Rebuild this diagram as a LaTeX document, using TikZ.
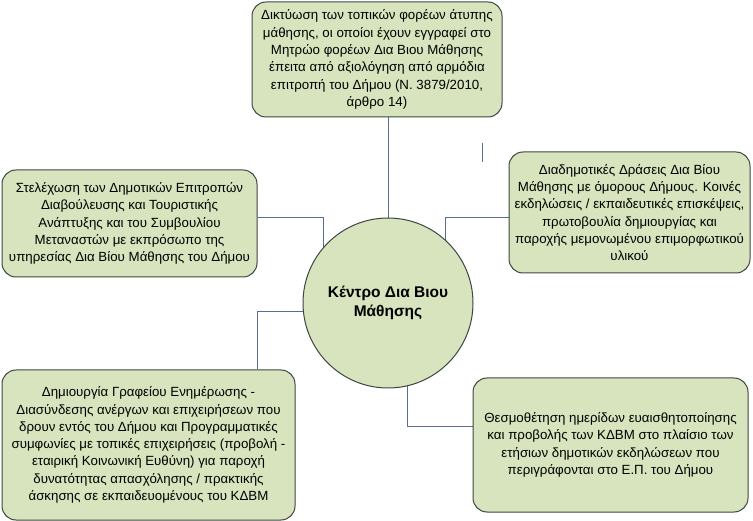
\documentclass[tikz,border=0pt]{standalone}
\usepackage{fontspec}
\setmainfont{Liberation Sans}
\usetikzlibrary{backgrounds}
\definecolor{boxfill}{RGB}{215,228,189}
\definecolor{boxline}{RGB}{62,70,66}
\definecolor{conn}{RGB}{88,108,150}
\tikzset{
  txtbox/.style={draw=boxline, fill=boxfill, line width=1pt, rounded corners=14pt,
    align=center, inner sep=0pt, font=\fontsize{13.3}{17.3}\selectfont},
  hub/.style={circle, draw=boxline, fill=boxfill, line width=1pt, minimum size=170pt,
    align=center, inner sep=0pt, font=\fontsize{15.5}{19}\selectfont\bfseries},
  link/.style={draw=conn, line width=1pt}
}
\begin{document}
\begin{tikzpicture}[x=1pt,y=-1pt]
\useasboundingbox (0,0) rectangle (753,521);
\node[hub] (c) at (388,303) {Κέντρο Δια Βιου\\Μάθησης};
\node[txtbox, minimum width=250pt, minimum height=115pt] (top) at (377,59.5)
 {Δικτύωση των τοπικών φορέων άτυπης\\μάθησης, οι οποίοι έχουν εγγραφεί στο\\Μητρώο φορέων Δια Βιου Μάθησης\\έπειτα από αξιολόγηση από αρμόδια\\επιτροπή του Δήμου (Ν. 3879/2010,\\άρθρο 14)};
\node[txtbox, minimum width=255pt, minimum height=107pt] (left) at (129.5,223.5)
 {Στελέχωση των Δημοτικών Επιτροπών\\Διαβούλευσης και Τουριστικής\\Ανάπτυξης και του Συμβουλίου\\Μεταναστών με εκπρόσωπο της\\υπηρεσίας Δια Βίου Μάθησης του Δήμου};
\node[txtbox, minimum width=241pt, minimum height=121pt] (right) at (629.5,212.5)
 {Διαδημοτικές Δράσεις Δια Βίου\\Μάθησης με όμορους Δήμους. Κοινές\\εκδηλώσεις / εκπαιδευτικές επισκέψεις,\\πρωτοβουλία δημιουργίας και\\παροχής μεμονωμένου επιμορφωτικού\\υλικού};
\node[txtbox, minimum width=293pt, minimum height=150pt] (bl) at (148.5,445)
 {Δημιουργία Γραφείου Ενημέρωσης -\\Διασύνδεσης ανέργων και επιχειρήσεων που\\δρουν εντός του Δήμου και Προγραμματικές\\συμφωνίες με τοπικές επιχειρήσεις (προβολή -\\εταιρική Κοινωνική Ευθύνη) για παροχή\\δυνατότητας απασχόλησης / πρακτικής\\άσκησης σε εκπαιδευομένους του ΚΔΒΜ};
\node[txtbox, minimum width=275pt, minimum height=134pt] (br) at (610.5,445)
 {Θεσμοθέτηση ημερίδων ευαισθητοποίησης\\και προβολής των ΚΔΒΜ στο πλαίσιο των\\ετήσιων δημοτικών εκδηλώσεων που\\περιγράφονται στο Ε.Π. του Δήμου};
\coordinate (s1) at (482,143);
\coordinate (s2) at (482,162);
\begin{pgfonlayer}{background}
\draw[link] (top.south -| c.center) -- (c.center);
\draw[link] ([yshift=5.5pt]left.east) -| ([xshift=-65pt]c.center);
\draw[link] ([yshift=-5.5pt]right.west) -| ([xshift=57pt]c.center);
\draw[link] ([xshift=108.5pt]bl.north) |- ([yshift=-9pt]c.center);
\draw[link] ([yshift=18pt]br.west) -| ([xshift=19pt]c.center);
\draw[link] (s1) -- (s2);
\end{pgfonlayer}
\end{tikzpicture}
\end{document}
